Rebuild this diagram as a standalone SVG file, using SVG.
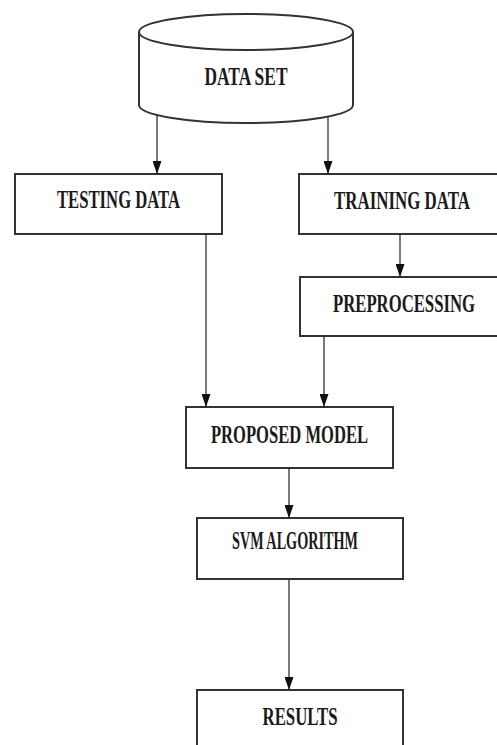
<svg xmlns="http://www.w3.org/2000/svg" width="497" height="745" viewBox="0 0 497 745">
<defs>
<marker id="arr" markerUnits="userSpaceOnUse" markerWidth="13" markerHeight="9" refX="13" refY="4.5" orient="auto">
<path d="M0,0 L13,4.5 L0,9 Z" fill="#111"/>
</marker>
<style>
.box{fill:#fff;stroke:#333;stroke-width:2}
.lbl{font-family:"Liberation Serif","Times New Roman",serif;font-weight:bold;font-size:25px;fill:#1a1a1a;text-anchor:middle}
.con{stroke:#222;stroke-width:1.2;fill:none;marker-end:url(#arr)}
</style>
</defs>
<rect width="497" height="745" fill="#fff"/>
<g id="dataset">
<path class="box" d="M139,32 L139,105 A107,18 0 0 0 353,105 L353,32"/>
<ellipse class="box" cx="246" cy="32" rx="107" ry="18"/>
<text class="lbl" x="246" y="85" textLength="83" lengthAdjust="spacingAndGlyphs">DATA SET</text>
</g>
<g id="testing">
<rect class="box" x="15" y="174" width="207" height="60"/>
<text class="lbl" x="118.5" y="208" textLength="123" lengthAdjust="spacingAndGlyphs">TESTING DATA</text>
</g>
<g id="training">
<rect class="box" x="299" y="174" width="210" height="60"/>
<text class="lbl" x="402" y="209" textLength="136" lengthAdjust="spacingAndGlyphs">TRAINING DATA</text>
</g>
<g id="preprocessing">
<rect class="box" x="300" y="277" width="210" height="59"/>
<text class="lbl" x="404" y="312" textLength="142" lengthAdjust="spacingAndGlyphs">PREPROCESSING</text>
</g>
<g id="proposed">
<rect class="box" x="186" y="407" width="207" height="61"/>
<text class="lbl" x="289.5" y="443" textLength="157" lengthAdjust="spacingAndGlyphs">PROPOSED MODEL</text>
</g>
<g id="svm">
<rect class="box" x="197" y="518" width="206" height="61"/>
<text class="lbl" x="295" y="549" font-size="23" textLength="126" lengthAdjust="spacingAndGlyphs">SVM ALGORITHM</text>
</g>
<g id="results">
<rect class="box" x="197" y="690" width="206" height="70"/>
<text class="lbl" x="300" y="725" textLength="75" lengthAdjust="spacingAndGlyphs">RESULTS</text>
</g>
<g id="connectors">
<line class="con" x1="157" y1="115" x2="157" y2="174"/>
<line class="con" x1="328" y1="117" x2="328" y2="174"/>
<line class="con" x1="400" y1="234" x2="400" y2="277"/>
<line class="con" x1="206" y1="234" x2="206" y2="407"/>
<line class="con" x1="324" y1="336" x2="324" y2="407"/>
<line class="con" x1="289" y1="468" x2="289" y2="518"/>
<line class="con" x1="289" y1="579" x2="289" y2="690"/>
</g>
</svg>
